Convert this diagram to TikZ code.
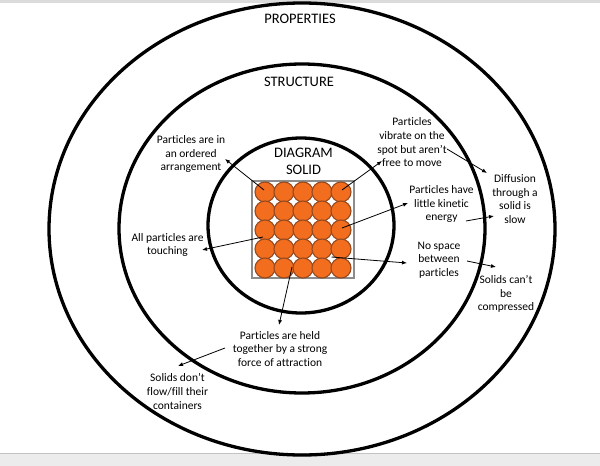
\documentclass[tikz,border=0pt]{standalone}
\usepackage{fontspec}
\setmainfont{Carlito}[Ligatures=NoCommon]
\usetikzlibrary{arrows.meta}
\definecolor{ballfill}{RGB}{242,110,30}
\definecolor{balldraw}{RGB}{150,72,30}
\definecolor{boxgray}{RGB}{140,140,140}
\definecolor{barfill}{RGB}{236,236,236}
\definecolor{barline}{RGB}{195,195,195}
\tikzset{
  ring/.style={draw=black,line width=3.3pt},
  lbl/.style={inner sep=0pt,align=center,font=\fontsize{11.5}{13.7}\selectfont},
  hdr/.style={inner sep=0pt,align=center,font=\fontsize{14.5}{17.5}\selectfont},
  arr/.style={draw=black,line width=0.8pt,-{Latex[length=5pt,width=4pt]}},
  ball/.style={circle,draw=balldraw,fill=ballfill,line width=1.1pt,minimum size=20pt,inner sep=0pt},
  crate/.style={draw=boxgray,fill=white,line width=2pt}
}
\begin{document}
\begin{tikzpicture}[x=1pt,y=-1pt]
\useasboundingbox (0,0) rectangle (600,466);
\fill[white] (0,0) rectangle (600,466);
% window chrome
\fill[barline!60] (0,0) rectangle (600,3);
\fill[barfill] (0,453) rectangle (600,466);
\draw[barline,line width=1pt] (0,453) -- (600,453);
% rings
\draw[ring] (302,229) ellipse [x radius=253,y radius=226];
\draw[ring] (302,228.5) ellipse [x radius=183,y radius=164.5];
\draw[ring] (301,225.5) ellipse [x radius=93,y radius=87.5];
% box of particles
\draw[crate] (252,181) rectangle (354,278);
\foreach \r/\yy in {1/192,2/211,3/230,4/249,5/268}{
  \foreach \c/\xx in {1/265,2/284,3/303,4/322,5/341}{
    \node[ball] (b\r\c) at (\xx,\yy) {};
  }
}
% headers
\node[hdr] (props) at (300,18.5) {PROPERTIES};
\node[hdr] (struct) at (299,82) {STRUCTURE};
\node[hdr] (diag) at (303.5,161.5) {DIAGRAM\\SOLID};
% labels
\node[lbl] (ordered) at (191,154.2) {Particles are in\\an ordered\\arrangement};
\node[lbl] (touching) at (167.5,245) {All particles are\\touching};
\node[lbl] (vibrate) at (412,142.2) {Particles\\vibrate on the\\spot but aren’t\\free to move};
\node[lbl] (kinetic) at (441.5,204) {Particles have\\little kinetic\\energy};
\node[lbl] (nospace) at (439,260) {No space\\between\\particles};
\node[lbl] (diffusion) at (515,199) {Diffusion\\through a\\solid is\\slow};
\node[lbl] (compress) at (506,294) {Solids can’t\\be\\compressed};
\node[lbl] (held) at (280,349) {Particles are held\\together by a strong\\force of attraction};
\node[lbl] (flow) at (177.5,391.5) {Solids don’t\\flow/fill their\\containers};
% arrow end points
\coordinate (s1) at (264,190);
\coordinate (e1) at (225,159);
\coordinate (s2) at (263,237);
\coordinate (e2) at (202,250);
\coordinate (s3) at (342,190);
\coordinate (e3) at (382,161);
\coordinate (s4) at (342,228);
\coordinate (e4) at (408,203);
\coordinate (s5) at (331.5,257);
\coordinate (e5) at (407,263);
\coordinate (s6) at (447,149);
\coordinate (e6) at (487,173);
\coordinate (s7) at (466,221);
\coordinate (e7) at (494,216);
\coordinate (s8) at (467,261);
\coordinate (e8) at (496,267);
\coordinate (s9) at (292,267);
\coordinate (e9) at (279,325);
\coordinate (s10) at (225,348);
\coordinate (e10) at (178,366);
% arrows
\draw[arr] (s1) -- (e1);
\draw[arr] (s2) -- (e2);
\draw[arr] (s3) -- (e3);
\draw[arr] (s4) -- (e4);
\draw[arr] (s5) -- (e5);
\draw[arr] (s6) -- (e6);
\draw[arr] (s7) -- (e7);
\draw[arr] (s8) -- (e8);
\draw[arr] (s9) -- (e9);
\draw[arr] (s10) -- (e10);
\end{tikzpicture}
\end{document}
